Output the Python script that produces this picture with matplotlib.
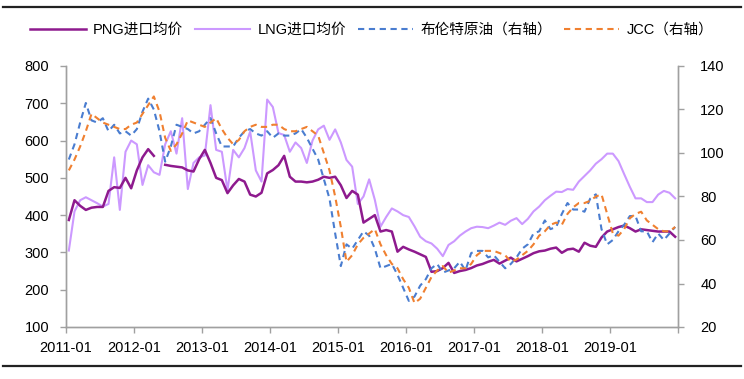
import numpy as np
import matplotlib
matplotlib.use('Agg')
import matplotlib.pyplot as plt
from matplotlib.lines import Line2D

plt.rcParams['font.family'] = ['Liberation Sans', 'Noto Sans CJK SC']

# monthly data, 2011-01 .. 2019-12
nan = np.nan
png = [387, 440, 425, 414, 420, 422, 422, 465, 475, 473, 500, 472,
       520, 555, 577, 559, nan, 535, 532, 530, 528, 520, 517, 550,
       575, 540, 500, 494, 459, 480, 497, 490, 455, 450, 460, 512,
       521, 534, 559, 503, 490, 490, 488, 490, 495, 503, 500, 503,
       480, 446, 465, 455, 380, 390, 400, 356, 360, 356, 302, 315,
       308, 302, 295, 288, 248, 250, 258, 272, 245, 250, 253, 258,
       265, 269, 275, 280, 270, 278, 286, 276, 283, 290, 298, 303,
       305, 310, 313, 299, 308, 310, 302, 326, 318, 315, 340, 356,
       362, 368, 372, 365, 356, 362, 360, 358, 356, 356, 356, 342]
lng = [305, 410, 440, 448, 440, 432, 423, 430, 555, 414, 570, 600,
       590, 481, 534, 515, 508, 590, 625, 565, 660, 470, 540, 555,
       560, 695, 575, 570, 467, 575, 555, 580, 624, 520, 490, 710,
       690, 620, 615, 570, 595, 580, 540, 600, 630, 640, 602, 630,
       595, 548, 530, 430, 450, 496, 441, 369, 395, 418, 410, 400,
       395, 370, 342, 330, 324, 310, 290, 320, 330, 345, 356, 365,
       369, 368, 365, 372, 380, 374, 385, 392, 376, 390, 410, 423,
       440, 452, 463, 462, 470, 468, 490, 505, 520, 538, 550, 565,
       565, 545, 510, 476, 445, 445, 435, 435, 455, 465, 460, 445]
brent = [97, 104, 114, 123, 115, 114, 116, 110, 113, 109, 110, 108,
         111, 119, 125, 120, 110, 96, 103, 113, 112, 111, 109, 110,
         113, 116, 109, 103, 103, 103, 107, 110, 111, 109, 108, 110,
         107, 109, 108, 108, 109, 111, 107, 102, 97, 88, 79, 63,
         48, 58, 56, 60, 64, 62, 56, 47, 48, 49, 44, 38,
         32, 34, 39, 42, 47, 49, 45, 46, 47, 50, 46, 54,
         55, 55, 52, 53, 50, 47, 49, 52, 56, 58, 63, 64,
         69, 65, 66, 72, 77, 74, 74, 73, 79, 81, 65, 58,
         60, 64, 67, 71, 71, 64, 64, 59, 63, 60, 63, 66]
jcc = [92, 97, 103, 110, 118, 116, 114, 113, 112, 111, 111, 113,
       114, 118, 122, 126, 119, 107, 101, 104, 109, 115, 114, 113,
       112, 114, 116, 111, 107, 104, 106, 110, 112, 113, 112, 112,
       113, 113, 111, 110, 110, 111, 112, 110, 108, 100, 92, 80,
       66, 50, 53, 58, 61, 63, 65, 58, 53, 49, 47, 42,
       38, 31, 33, 38, 43, 46, 48, 45, 46, 47, 47, 49,
       53, 55, 55, 55, 54, 53, 50, 51, 53, 55, 58, 62,
       64, 67, 68, 67, 72, 75, 77, 77, 78, 80, 81, 72,
       63, 62, 65, 70, 72, 73, 69, 67, 65, 64, 64, 66]
year_labels = ['2011-01', '2012-01', '2013-01', '2014-01', '2015-01',
               '2016-01', '2017-01', '2018-01', '2019-01']
names = ['PNG进口均价', 'LNG进口均价', '布伦特原油（右轴）', 'JCC（右轴）']
colors = ['#8E1A8E', '#CC99FF', '#4A7DD0', '#F08030']

x = np.arange(len(png)) + 0.5

fig = plt.figure(figsize=(7.44, 3.79), dpi=100)
ax = fig.add_axes([66/744, 1-327/379, 612/744, 261/379])
ax2 = ax.twinx()

ax.plot(x, lng, color=colors[1], lw=1.5, solid_joinstyle='round')
ax.plot(x, png, color=colors[0], lw=1.8, solid_joinstyle='round')
ax2.plot(x, brent, color=colors[2], lw=1.5, dashes=(3, 2.2))
ax2.plot(x, jcc, color=colors[3], lw=1.5, dashes=(3, 2.2))

ax.set_xlim(0, 108)
ax.set_ylim(100, 800)
ax.set_yticks(np.arange(100, 801, 100))
ax2.set_ylim(20, 140)
ax2.set_yticks(np.arange(20, 141, 20))
ax.set_xticks(np.arange(0, 109, 12))
ax.set_xticklabels(year_labels + [''])

gray = '#A0A0A0'
for a in (ax, ax2):
    a.spines['top'].set_visible(False)
    for s in ('left', 'right', 'bottom'):
        a.spines[s].set_color(gray)
        a.spines[s].set_linewidth(1.0)
    a.tick_params(colors=gray, labelcolor='black', labelsize=10.5,
                  length=4, width=1.0, direction='out')
ax.tick_params(axis='y', pad=8)
ax2.tick_params(axis='y', pad=12)
ax.tick_params(axis='x', pad=6)

handles = [Line2D([], [], color=colors[0], lw=1.8),
           Line2D([], [], color=colors[1], lw=1.5),
           Line2D([], [], color=colors[2], lw=1.5, dashes=(3, 2.2)),
           Line2D([], [], color=colors[3], lw=1.5, dashes=(3, 2.2))]
fig.legend(handles, names, loc='center', bbox_to_anchor=(0.5, 1-30/379),
           ncol=4, frameon=False, fontsize=10.5, handlelength=3.8,
           handletextpad=0.5, columnspacing=0.8)

# frame rules above and below the chart
fig.add_artist(Line2D([3/744, 741/744], [1-7/379, 1-7/379],
                      color='#222222', lw=1.6))
fig.add_artist(Line2D([3/744, 741/744], [1-366/379, 1-366/379],
                      color='#222222', lw=1.6))

fig.savefig('out.png', dpi=100)
